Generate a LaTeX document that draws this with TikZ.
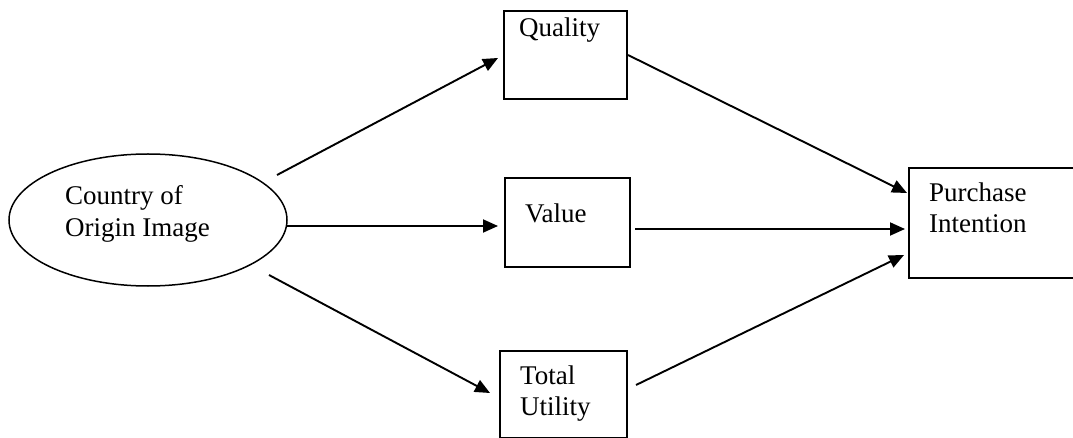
\documentclass[tikz,border=0pt]{standalone}
\usepackage{fontspec}
\setmainfont{Liberation Serif}
\usetikzlibrary{arrows.meta,shapes.geometric}
\begin{document}
\begin{tikzpicture}[x=1pt,y=-1pt,
  box/.style={draw,line width=1.8pt,inner sep=0pt,anchor=north west},
  lbl/.style={anchor=base west,inner sep=0pt,font=\fontsize{27}{32}\selectfont},
  arr/.style={line width=1.9pt,-{Triangle[length=15pt,width=13pt]}}]
\useasboundingbox (0,0) rectangle (1073,438);
% ellipse
\node[draw,ellipse,line width=1.5pt,inner sep=0pt,minimum width=278pt,minimum height=132pt] (coo) at (148,220) {};
\node[lbl] (coo1) at (65,205) {Country of};
\node[lbl] (coo2) at (65,237) {Origin Image};
% boxes
\node[box,minimum width=123pt,minimum height=88pt] (qual) at (503,10) {};
\node[lbl] (qualt) at (519,37) {Quality};
\node[box,minimum width=125pt,minimum height=89pt] (val) at (504,177) {};
\node[lbl] (valt) at (525,223) {Value};
\node[box,minimum width=127pt,minimum height=87pt] (tot) at (499,350) {};
\node[lbl] (tot1) at (520,384) {Total};
\node[lbl] (tot2) at (520,415) {Utility};
\node[box,minimum width=180pt,minimum height=110pt] (pur) at (908,167) {};
\node[lbl] (pur1) at (929,202) {Purchase};
\node[lbl] (pur2) at (929,233) {Intention};
% connector end points
\coordinate (a1s) at (277,175); \coordinate (a1e) at (498,58);
\coordinate (a2s) at (287,226); \coordinate (a2e) at (498,226);
\coordinate (a3s) at (269,275); \coordinate (a3e) at (490,393);
\coordinate (b1s) at (628,55);  \coordinate (b1e) at (907,193);
\coordinate (b2s) at (635,229); \coordinate (b2e) at (905,229);
\coordinate (b3s) at (636,385); \coordinate (b3e) at (904,255);
\draw[arr] (a1s) -- (a1e);
\draw[arr] (a2s) -- (a2e);
\draw[arr] (a3s) -- (a3e);
\draw[arr] (b1s) -- (b1e);
\draw[arr] (b2s) -- (b2e);
\draw[arr] (b3s) -- (b3e);
\end{tikzpicture}
\end{document}
